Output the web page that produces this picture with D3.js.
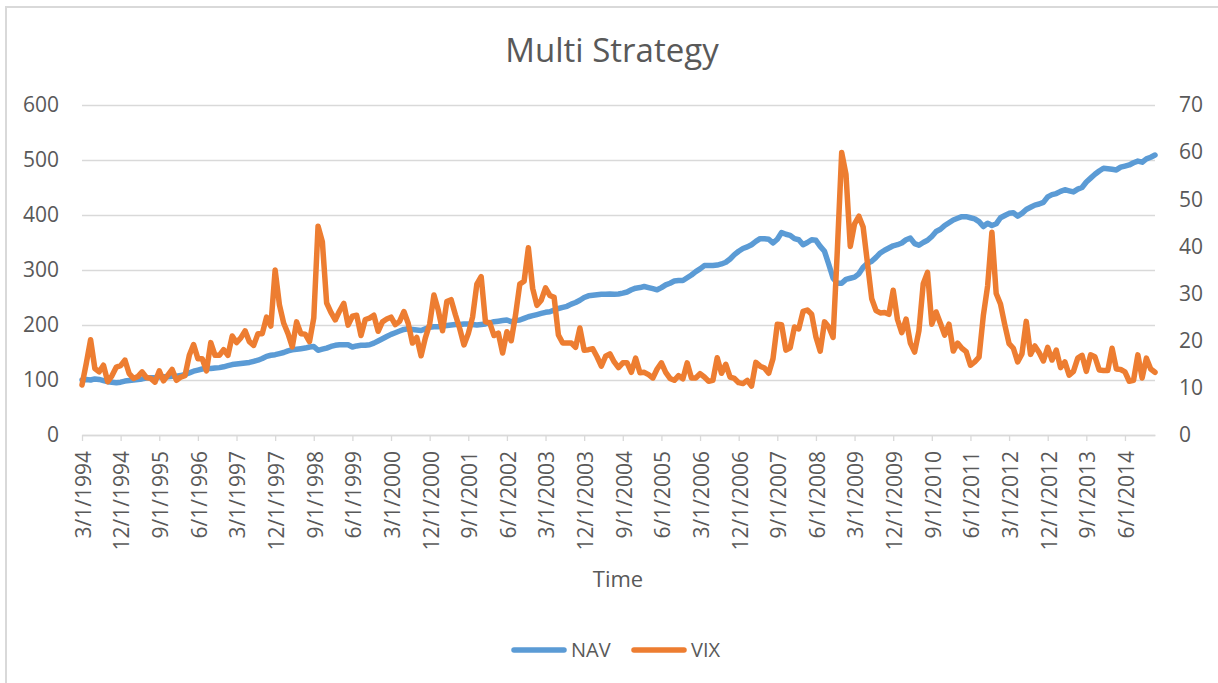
<!DOCTYPE html>
<html>
<head>
<meta charset="utf-8">
<script src="https://cdn.jsdelivr.net/npm/d3@7"></script>
<style>
    body { margin: 0; background: #fff; }
    svg text { font-family: "Open Sans", sans-serif; fill: #595959; }
    .tick line { stroke: #d9d9d9; stroke-width: 1.3; }
    .domain { stroke: #d9d9d9; stroke-width: 1.3; }
</style>
</head>
<body>
<svg width="1218" height="683"></svg>
<script>
'use strict';

// monthly categories, 3/1/1994 .. 1/1/2015
let categories = d3.timeMonth.range(new Date(1994, 2, 1), new Date(2015, 1, 1));

let navValues = [
    100, 101, 100, 102, 101, 99, 97, 96, 95, 96, 98, 99,
    100, 101, 102, 103.5, 104, 104.5, 105.5, 106, 106, 107, 107, 108,
    110, 113, 116, 118, 120, 121, 121, 122, 122.5, 124, 126, 128,
    129, 130, 131, 132, 134, 136, 139, 143, 145, 146, 148, 150,
    153, 155, 156, 157, 158, 160, 161, 154, 156, 158, 161, 163,
    164, 164, 164, 160, 162, 163, 163, 164, 167, 171, 175, 179,
    183, 186, 189, 192, 193, 192, 191, 190, 193, 196, 197, 197,
    198, 199, 200, 201, 201, 202, 202, 201, 200, 201, 202, 204,
    206, 207, 208, 209, 206, 208, 209, 212, 215, 217, 219, 221,
    223, 224, 227, 230, 232, 234, 238, 241, 245, 250, 253, 254,
    255, 256, 256, 256.5, 256, 256.5, 258, 260, 264, 267, 268, 270,
    268, 266, 264, 268, 273, 276, 280, 281, 281, 286, 291, 297,
    302, 308, 308, 308, 309, 311, 314, 320, 328, 334, 339, 342,
    346, 352, 357, 357, 356, 349, 356, 368, 365, 363, 357, 355,
    346, 350, 355, 354, 343, 334, 310, 285, 276, 276, 283, 285,
    287, 293, 305, 312, 316, 323, 331, 336, 340, 344, 346, 349,
    355, 358, 348, 345, 350, 354, 361, 370, 374, 381, 386, 391,
    394, 397, 397, 395, 393, 388, 379, 385, 381, 384, 395, 399,
    403, 404, 398, 403, 410, 414, 418, 420, 423, 433, 437, 439,
    443, 446, 444, 442, 447, 450, 460, 467, 474, 480, 485, 484,
    483, 482, 487, 489, 491, 495, 498, 496, 502, 505, 509
];

let vixValues = [
    10.6, 15.2, 20.2, 14.1, 13.4, 14.8, 11.3, 12.6, 14.4, 14.7, 15.9, 13.0,
    12.0, 12.4, 13.4, 12.2, 12.0, 11.2, 13.6, 11.5, 12.7, 13.9, 11.6, 12.3,
    12.6, 16.9, 19.2, 16.2, 16.2, 13.6, 19.6, 16.9, 16.9, 18.1, 16.9, 21.0,
    19.6, 20.6, 22.1, 19.8, 19.0, 21.5, 21.5, 25.0, 23.1, 35.0, 27.6, 23.7,
    21.5, 18.7, 24.0, 21.5, 21.4, 19.8, 24.8, 44.3, 41.0, 28.0, 26.0, 24.4,
    26.3, 27.9, 23.3, 25.2, 25.4, 21.1, 24.5, 24.8, 25.4, 22.0, 24.0, 24.6,
    25.0, 23.4, 24.1, 26.2, 23.7, 19.5, 20.7, 16.8, 20.6, 23.5, 29.7, 26.5,
    22.1, 28.3, 28.7, 25.5, 22.6, 19.1, 21.5, 25.0, 32.0, 33.6, 24.0, 23.8,
    21.1, 21.6, 17.4, 21.9, 20.0, 25.4, 32.0, 32.6, 39.7, 31.1, 27.5, 28.6,
    31.2, 29.6, 29.2, 21.2, 19.5, 19.5, 19.5, 18.6, 22.7, 18.0, 18.1, 18.3,
    16.6, 14.6, 16.7, 17.2, 15.5, 14.3, 15.3, 15.3, 13.3, 16.3, 13.2, 13.3,
    12.8, 12.1, 14.0, 15.3, 13.3, 12.0, 11.6, 12.6, 11.9, 15.3, 12.1, 12.1,
    13.0, 12.3, 11.4, 11.6, 16.4, 13.1, 15.0, 12.3, 12.0, 11.1, 10.9, 11.6,
    10.4, 15.4, 14.6, 14.2, 13.1, 16.2, 23.5, 23.4, 18.0, 18.5, 22.9, 22.5,
    26.2, 26.5, 25.6, 20.8, 17.8, 24.0, 22.9, 20.7, 39.4, 59.9, 55.3, 40.0,
    44.8, 46.4, 44.1, 36.5, 28.9, 26.4, 25.9, 26.0, 25.6, 30.7, 24.5, 21.7,
    24.6, 19.5, 17.6, 22.1, 32.1, 34.5, 23.5, 26.1, 23.7, 21.2, 23.5, 17.8,
    19.5, 18.4, 17.7, 14.8, 15.5, 16.5, 25.3, 31.6, 43.0, 30.0, 27.8, 23.4,
    19.4, 18.4, 15.5, 17.2, 24.1, 17.1, 18.9, 17.5, 15.7, 18.6, 15.9, 18.0,
    14.3, 15.5, 12.7, 13.5, 16.3, 16.9, 13.5, 17.0, 16.6, 13.8, 13.7, 13.7,
    18.4, 14.0, 13.9, 13.4, 11.4, 11.6, 17.0, 12.1, 16.3, 14.0, 13.3
];

let leftTicks = [0, 100, 200, 300, 400, 500, 600];
let rightTicks = [0, 10, 20, 30, 40, 50, 60, 70];
let series = [
    {name: "NAV", color: "#5b9bd5", values: navValues, axis: "left"},
    {name: "VIX", color: "#ed7d31", values: vixValues, axis: "right"}
];

let svg = d3.select("svg");
let plotLeft = 82, plotRight = 1155, plotTop = 105, plotBottom = 435;

// chart border (right and bottom edges fall outside the picture)
svg.append("rect")
    .attr("x", 6).attr("y", 7)
    .attr("width", 1300).attr("height", 800)
    .attr("fill", "none").attr("stroke", "#d9d9d9")
    .attr("stroke-width", 2);

let x = d3.scalePoint().domain(d3.range(categories.length)).range([plotLeft, plotRight]);
let yLeft = d3.scaleLinear().domain([0, 600]).range([plotBottom, plotTop]);
let yRight = d3.scaleLinear().domain([0, 70]).range([plotBottom, plotTop]);

// left axis + gridlines
let gl = svg.append("g")
    .attr("transform", "translate(" + plotLeft + ",0)")
    .call(d3.axisLeft(yLeft).tickValues(leftTicks).tickSize(-(plotRight - plotLeft)).tickPadding(23));
gl.select(".domain").remove();
gl.selectAll("text").style("font-size", "21px");

let gr = svg.append("g")
    .attr("transform", "translate(" + plotRight + ",0)")
    .call(d3.axisRight(yRight).tickValues(rightTicks).tickSize(0).tickPadding(24));
gr.select(".domain").remove();
gr.selectAll("text").style("font-size", "21px");

let fmt = d3.timeFormat("%-m/%-d/%Y");
let gx = svg.append("g")
    .attr("transform", "translate(0," + plotBottom + ")")
    .call(d3.axisBottom(x)
        .tickValues(d3.range(0, categories.length, 9))
        .tickFormat(function (i) { return fmt(categories[i]); })
        .tickSize(6).tickSizeOuter(0));
gx.selectAll("text")
    .attr("transform", "rotate(-90)")
    .attr("x", -16).attr("y", 1).attr("dy", "0.35em")
    .attr("text-anchor", "end")
    .style("font-size", "21px");

// lines
series.forEach(function (s) {
    let y = s.axis === "left" ? yLeft : yRight;
    let line = d3.line()
        .x(function (d, i) { return x(i); })
        .y(function (d) { return y(d); });
    svg.append("path")
        .datum(s.values)
        .attr("fill", "none")
        .attr("stroke", s.color)
        .attr("stroke-width", 5.5)
        .attr("stroke-linejoin", "round")
        .attr("stroke-linecap", "round")
        .attr("d", line);
});

svg.append("text")
    .attr("x", 612).attr("y", 62)
    .attr("text-anchor", "middle")
    .style("font-size", "33px")
    .text("Multi Strategy");

svg.append("text")
    .attr("x", 618).attr("y", 587)
    .attr("text-anchor", "middle")
    .style("font-size", "22px")
    .text("Time");

// legend
let legend = svg.selectAll(".legend")
    .data(series).enter()
    .append("g")
    .attr("class", "legend")
    .attr("transform", function (d, i) { return "translate(" + (514 + i * 120) + ",650)"; });
legend.append("line")
    .attr("x1", 0).attr("x2", 50)
    .attr("stroke", function (d) { return d.color; })
    .attr("stroke-width", 5.5)
    .attr("stroke-linecap", "round");
legend.append("text")
    .attr("x", 57).attr("y", 7)
    .style("font-size", "20px")
    .text(function (d) { return d.name; });
</script>
</body>
</html>
